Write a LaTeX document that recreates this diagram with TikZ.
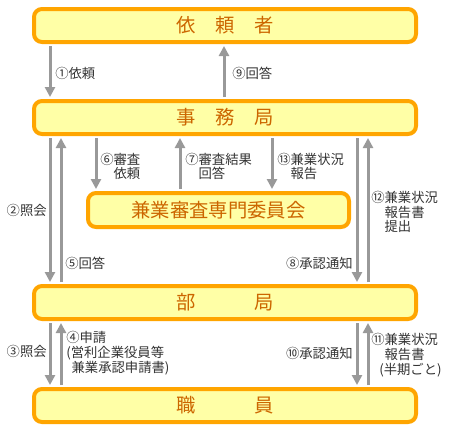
\documentclass[tikz,border=0pt]{standalone}
\usepackage{fontspec}
\setmainfont{Noto Sans CJK JP}
\usetikzlibrary{arrows.meta}
\definecolor{boxfill}{HTML}{FFFFA6}
\definecolor{boxline}{HTML}{FFA500}
\definecolor{boxtext}{HTML}{CC6600}
\definecolor{arrgray}{HTML}{999999}
\definecolor{lbltext}{HTML}{333333}
\tikzset{
  unitbox/.style={draw=boxline, line width=3pt, fill=boxfill, rounded corners=6pt, text=boxtext,
    font=\fontsize{14.5}{16}\selectfont, minimum width=286.5pt, minimum height=24.75pt, inner sep=0pt},
  flowarr/.style={draw=arrgray, line width=2.25pt, -{Triangle[length=7.5pt,width=7.5pt]},
    shorten <=1.5pt, shorten >=1.5pt},
  steplbl/.style={font=\fontsize{10}{11}\selectfont, text=lbltext, align=left, inner sep=0pt}
}
\begin{document}
\begin{tikzpicture}[x=0.75pt, y=-0.75pt]
\useasboundingbox (0,0) rectangle (450,430);
% columns of the arrows
\foreach \n/\x in {a/50,b/61,c/96,d/180,e/224,f/272,g/357,h/368} \coordinate (col\n) at (\x,0);
% boxes
\node[unitbox] (irai) at (225,25.5) {依　頼　者};
\node[unitbox] (jimu) at (225,117.5) {事　務　局};
\node[unitbox, minimum width=195.75pt, minimum height=25.5pt] (iinkai) at (218.5,210) {兼業審査専門委員会};
\node[unitbox] (bukyoku) at (225,302.5) {部　　　局};
\node[unitbox] (shokuin) at (225,405.5) {職　　　員};
% arrows
\draw[flowarr] (irai.south -| cola) -- (jimu.north -| cola);
\draw[flowarr] (jimu.north -| cole) -- (irai.south -| cole);
\draw[flowarr] (jimu.south -| colc) -- (iinkai.north -| colc);
\draw[flowarr] (iinkai.north -| cold) -- (jimu.south -| cold);
\draw[flowarr] (jimu.south -| colf) -- (iinkai.north -| colf);
\draw[flowarr] (jimu.south -| cola) -- (bukyoku.north -| cola);
\draw[flowarr] (bukyoku.north -| colb) -- (jimu.south -| colb);
\draw[flowarr] (jimu.south -| colg) -- (bukyoku.north -| colg);
\draw[flowarr] (bukyoku.north -| colh) -- (jimu.south -| colh);
\draw[flowarr] (bukyoku.south -| cola) -- (shokuin.north -| cola);
\draw[flowarr] (shokuin.north -| colb) -- (bukyoku.south -| colb);
\draw[flowarr] (bukyoku.south -| colg) -- (shokuin.north -| colg);
\draw[flowarr] (shokuin.north -| colh) -- (bukyoku.south -| colh);
% labels
\node[steplbl, anchor=west] (l1) at (55,73) {①依頼};
\node[steplbl, anchor=west] (l9) at (232,73) {⑨回答};
\node[steplbl, anchor=west] (l6) at (100,166.5) {⑥審査\\\phantom{⑥}依頼};
\node[steplbl, anchor=west] (l7) at (185,166.5) {⑦審査結果\\\phantom{⑦}回答};
\node[steplbl, anchor=west] (l13) at (277,166.5) {⑬兼業状況\\\phantom{⑬}報告};
\node[steplbl, anchor=east] (l2) at (47,210) {②照会};
\node[steplbl, anchor=west] (l5) at (65,263) {⑤回答};
\node[steplbl, anchor=east] (l8) at (353,263) {⑧承認通知};
\node[steplbl, anchor=west] (l12) at (371,212) {⑫兼業状況\\\phantom{⑫}報告書\\\phantom{⑫}提出};
\node[steplbl, anchor=east] (l3) at (47,351) {③照会};
\node[steplbl, anchor=west] (l4) at (66,353) {④申請\\(営利企業役員等\\\hspace{0.4em}兼業承認申請書)};
\node[steplbl, anchor=east] (l10) at (353,353) {⑩承認通知};
\node[steplbl, anchor=west] (l11) at (371,355) {⑪兼業状況\\\phantom{⑪}報告書\\\hspace{0.6em}(半期ごと)};
\end{tikzpicture}
\end{document}
